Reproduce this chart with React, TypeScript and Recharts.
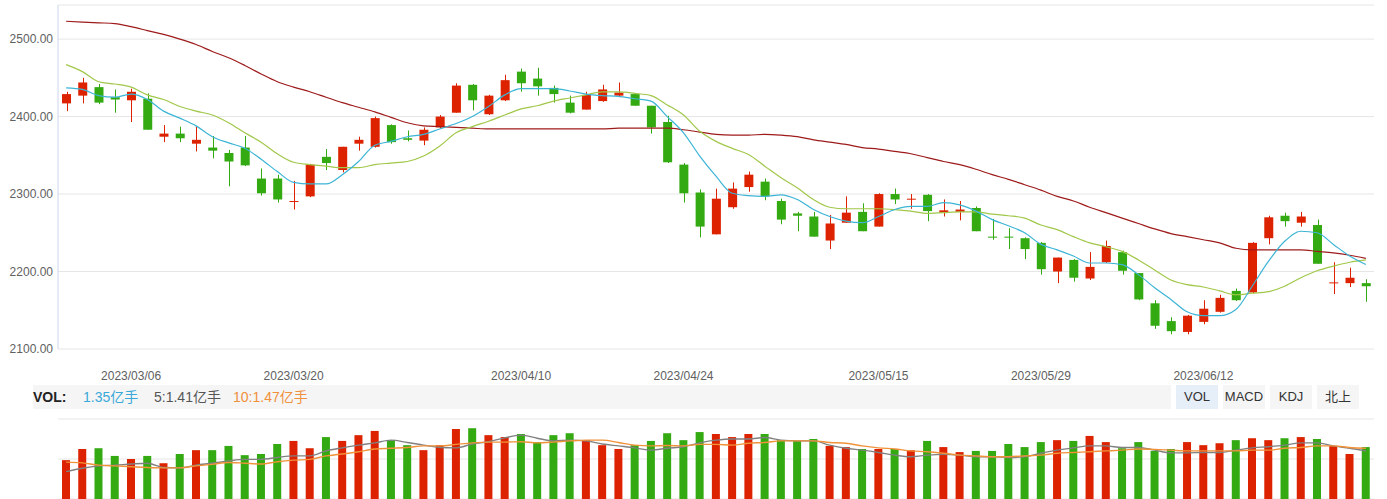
import React from 'react'
import {
  ComposedChart,
  Bar,
  Line,
  XAxis,
  YAxis,
  CartesianGrid,
  Cell,
} from 'recharts'

const dates = [
  '2023/02/28', '2023/03/01', '2023/03/02', '2023/03/03', '2023/03/06', '2023/03/07', '2023/03/08', '2023/03/09', '2023/03/10',
  '2023/03/13', '2023/03/14', '2023/03/15', '2023/03/16', '2023/03/17', '2023/03/20', '2023/03/21', '2023/03/22', '2023/03/23',
  '2023/03/24', '2023/03/27', '2023/03/28', '2023/03/29', '2023/03/30', '2023/03/31', '2023/04/03', '2023/04/04', '2023/04/06',
  '2023/04/07', '2023/04/10', '2023/04/11', '2023/04/12', '2023/04/13', '2023/04/14', '2023/04/17', '2023/04/18', '2023/04/19',
  '2023/04/20', '2023/04/21', '2023/04/24', '2023/04/25', '2023/04/26', '2023/04/27', '2023/04/28', '2023/05/04', '2023/05/05',
  '2023/05/08', '2023/05/09', '2023/05/10', '2023/05/11', '2023/05/12', '2023/05/15', '2023/05/16', '2023/05/17', '2023/05/18',
  '2023/05/19', '2023/05/22', '2023/05/23', '2023/05/24', '2023/05/25', '2023/05/26', '2023/05/29', '2023/05/30', '2023/05/31',
  '2023/06/01', '2023/06/02', '2023/06/05', '2023/06/06', '2023/06/07', '2023/06/08', '2023/06/09', '2023/06/12', '2023/06/13',
  '2023/06/14', '2023/06/15', '2023/06/16', '2023/06/19', '2023/06/20', '2023/06/21', '2023/06/26', '2023/06/27', '2023/06/28',
]

const xTicks = ['2023/03/06', '2023/03/20', '2023/04/10', '2023/04/24', '2023/05/15', '2023/05/29', '2023/06/12']
const yTicks = [2100, 2200, 2300, 2400, 2500]
const volTicks = [0, 0.52, 1.04, 1.56, 2.08]

const open = [
  2417, 2427, 2438, 2425, 2421, 2423, 2374, 2378, 2365, 2360, 2353, 2360, 2320, 2320, 2290, 2297, 2348, 2331, 2365, 2361,
  2389, 2372, 2369, 2386, 2405, 2441, 2403, 2421, 2458, 2449, 2437, 2418, 2409, 2420, 2427, 2429, 2414, 2393, 2338, 2302,
  2248, 2283, 2309, 2316, 2291, 2275, 2271, 2240, 2263, 2277, 2258, 2300, 2293, 2299, 2276, 2277, 2282, 2245, 2245, 2243,
  2237, 2200, 2215, 2191, 2212, 2225, 2198, 2159, 2136, 2122, 2135, 2148, 2175, 2173, 2243, 2272, 2263, 2260, 2185, 2185, 2185,
]
const close = [
  2429, 2444, 2418, 2422, 2432, 2383, 2378, 2372, 2370, 2356, 2342, 2337, 2301, 2293, 2291, 2338, 2340, 2361, 2370, 2398,
  2367, 2370, 2383, 2400, 2440, 2421, 2427, 2447, 2443, 2439, 2429, 2405, 2428, 2435, 2431, 2414, 2386, 2341, 2301, 2258,
  2294, 2307, 2325, 2297, 2267, 2272, 2245, 2262, 2276, 2252, 2300, 2293, 2294, 2278, 2279, 2280, 2252, 2244, 2244, 2229,
  2203, 2218, 2192, 2206, 2233, 2201, 2164, 2130, 2123, 2143, 2152, 2166, 2163, 2237, 2270, 2265, 2271, 2210, 2186, 2192, 2181,
]
const high = [
  2432, 2450, 2442, 2435, 2436, 2430, 2389, 2387, 2387, 2375, 2357, 2375, 2333, 2325, 2317, 2339, 2358, 2361, 2374, 2400,
  2390, 2382, 2386, 2402, 2443, 2442, 2428, 2454, 2462, 2463, 2440, 2427, 2432, 2441, 2444, 2430, 2414, 2401, 2340, 2306,
  2307, 2315, 2329, 2320, 2294, 2277, 2277, 2273, 2297, 2288, 2301, 2307, 2300, 2300, 2293, 2291, 2284, 2268, 2256, 2244,
  2238, 2218, 2216, 2225, 2240, 2227, 2198, 2163, 2141, 2144, 2163, 2170, 2178, 2238, 2272, 2276, 2277, 2267, 2212, 2205, 2190,
]
const low = [
  2407, 2417, 2416, 2405, 2393, 2383, 2367, 2367, 2355, 2346, 2310, 2336, 2298, 2289, 2280, 2296, 2331, 2328, 2356, 2360,
  2365, 2368, 2363, 2385, 2405, 2408, 2402, 2420, 2432, 2427, 2418, 2404, 2409, 2419, 2425, 2414, 2378, 2340, 2289, 2244,
  2248, 2281, 2303, 2292, 2261, 2252, 2245, 2229, 2263, 2252, 2258, 2287, 2281, 2265, 2271, 2266, 2252, 2241, 2229, 2216,
  2196, 2185, 2187, 2189, 2211, 2196, 2163, 2126, 2119, 2119, 2132, 2147, 2162, 2172, 2235, 2258, 2258, 2210, 2171, 2180, 2161,
]

const ma5 = [
  2437, 2435, 2427, 2425, 2429, 2422, 2407, 2398, 2388, 2374, 2366, 2359, 2345, 2329, 2315, 2313, 2313, 2325, 2342, 2363,
  2368, 2374, 2377, 2384, 2391, 2400, 2413, 2428, 2436, 2436, 2436, 2433, 2429, 2427, 2426, 2423, 2420, 2400, 2379, 2349,
  2323, 2301, 2298, 2297, 2299, 2293, 2280, 2271, 2265, 2263, 2271, 2280, 2284, 2284, 2289, 2286, 2278, 2267, 2259, 2250,
  2235, 2228, 2220, 2211, 2211, 2209, 2196, 2179, 2164, 2148, 2143, 2143, 2151, 2181, 2213, 2239, 2252, 2250, 2235, 2220, 2209,
]
const ma10 = [
  2467, 2458, 2445, 2442, 2438, 2428, 2422, 2413, 2407, 2402, 2392, 2379, 2367, 2352, 2341, 2338, 2336, 2334, 2334, 2338,
  2340, 2342, 2349, 2362, 2379, 2387, 2394, 2402, 2410, 2414, 2420, 2424, 2428, 2432, 2432, 2430, 2427, 2415, 2402, 2381,
  2368, 2359, 2351, 2336, 2321, 2308, 2293, 2283, 2281, 2281, 2281, 2280, 2278, 2275, 2276, 2277, 2277, 2274, 2272, 2269,
  2260, 2254, 2245, 2237, 2232, 2226, 2215, 2202, 2189, 2183, 2180, 2175, 2170, 2172, 2174, 2181, 2192, 2201, 2207, 2212, 2215,
]
const ma60 = [
  2523, 2522, 2521, 2520, 2516, 2511, 2506, 2500, 2493, 2484, 2476, 2466, 2455, 2445, 2438, 2432, 2425, 2418, 2412, 2406,
  2399, 2392, 2388, 2387, 2386, 2385, 2384, 2384, 2384, 2384, 2384, 2384, 2384, 2384, 2385, 2385, 2385, 2385, 2383, 2380,
  2377, 2376, 2376, 2377, 2376, 2374, 2370, 2367, 2364, 2360, 2358, 2355, 2352, 2347, 2342, 2338, 2332, 2325, 2319, 2312,
  2305, 2297, 2291, 2283, 2276, 2269, 2262, 2255, 2249, 2245, 2241, 2237, 2230, 2228, 2228, 2228, 2228, 2226, 2224, 2221, 2217,
]

// 成交量 (亿手)
const vol = [
  1.01, 1.3, 1.32, 1.12, 1.04, 1.12, 0.93, 1.17, 1.27, 1.27, 1.38, 1.14, 1.17, 1.43, 1.51, 1.32, 1.61, 1.51, 1.66, 1.77,
  1.53, 1.4, 1.27, 1.4, 1.82, 1.84, 1.66, 1.61, 1.69, 1.48, 1.66, 1.71, 1.53, 1.4, 1.3, 1.4, 1.51, 1.71, 1.53, 1.74,
  1.69, 1.61, 1.69, 1.69, 1.53, 1.51, 1.56, 1.38, 1.35, 1.3, 1.3, 1.3, 1.27, 1.51, 1.35, 1.22, 1.25, 1.25, 1.43, 1.35,
  1.48, 1.53, 1.51, 1.64, 1.48, 1.32, 1.48, 1.25, 1.3, 1.48, 1.4, 1.45, 1.53, 1.58, 1.53, 1.58, 1.61, 1.56, 1.38, 1.17, 1.35,
]
const volMa5 = [
  0.71, 0.8, 0.86, 0.88, 0.91, 0.93, 0.82, 0.81, 0.88, 0.93, 0.99, 1.03, 1.03, 1.08, 1.12, 1.12, 1.25, 1.33, 1.4, 1.46,
  1.53, 1.47, 1.4, 1.34, 1.33, 1.43, 1.49, 1.59, 1.66, 1.58, 1.51, 1.53, 1.51, 1.43, 1.38, 1.33, 1.27, 1.32, 1.36, 1.46,
  1.53, 1.56, 1.56, 1.6, 1.53, 1.51, 1.51, 1.4, 1.32, 1.27, 1.21, 1.14, 1.1, 1.14, 1.16, 1.14, 1.1, 1.1, 1.08, 1.1,
  1.19, 1.27, 1.33, 1.38, 1.38, 1.34, 1.34, 1.27, 1.2, 1.2, 1.21, 1.21, 1.27, 1.33, 1.36, 1.4, 1.46, 1.46, 1.38, 1.32, 1.25,
]
const volMa10 = [
  0.96, 0.94, 0.88, 0.86, 0.84, 0.82, 0.81, 0.81, 0.86, 0.9, 0.95, 0.93, 0.91, 0.97, 1.01, 1.03, 1.12, 1.17, 1.23, 1.3,
  1.32, 1.34, 1.38, 1.38, 1.42, 1.46, 1.48, 1.48, 1.49, 1.46, 1.48, 1.51, 1.53, 1.53, 1.47, 1.4, 1.38, 1.39, 1.38, 1.42,
  1.42, 1.4, 1.45, 1.47, 1.51, 1.51, 1.51, 1.47, 1.45, 1.38, 1.33, 1.3, 1.25, 1.23, 1.19, 1.14, 1.12, 1.1, 1.1, 1.12,
  1.14, 1.19, 1.21, 1.23, 1.25, 1.27, 1.3, 1.29, 1.27, 1.25, 1.25, 1.25, 1.25, 1.27, 1.27, 1.32, 1.34, 1.38, 1.38, 1.34, 1.32,
]

const UP = '#dd2200'
const DOWN = '#33aa11'

const rows = dates.map((date, i) => ({
  date,
  open: open[i],
  close: close[i],
  high: high[i],
  low: low[i],
  range: [low[i], high[i]],
  ma5: ma5[i],
  ma10: ma10[i],
  ma60: ma60[i],
  vol: vol[i],
  volMa5: volMa5[i],
  volMa10: volMa10[i],
}))

const Candle = (props: any) => {
  const { x, y, width, height, payload } = props
  if (!payload) return null
  const top = Math.min(y, y + height)
  const h = Math.abs(height)
  const ppu = h / (payload.high - payload.low || 1)
  const bodyTop = top + (payload.high - Math.max(payload.open, payload.close)) * ppu
  const bodyH = Math.max(1, Math.abs(payload.open - payload.close) * ppu)
  const color = payload.close >= payload.open ? UP : DOWN
  const cx = Math.round(x + width / 2) + 0.5
  return (
    <g>
      <line x1={cx} x2={cx} y1={top} y2={top + h} stroke={color} strokeWidth={1} />
      <rect x={x} y={bodyTop} width={width} height={bodyH} fill={color} />
    </g>
  )
}

const tickStyle = { fontSize: 12, fill: '#606060' }
const tabStyle: React.CSSProperties = {
  position: 'absolute',
  top: 385,
  width: 42,
  height: 24,
  lineHeight: '24px',
  textAlign: 'center',
  fontSize: 13,
  color: '#333',
  background: '#f5f5f5',
}

export default function App() {
  return (
    <div
      style={{
        position: 'absolute',
        left: 0,
        top: 0,
        width: 1387,
        height: 499,
        overflow: 'hidden',
        background: '#fff',
        fontFamily: 'Arial, "Liberation Sans", "Noto Sans CJK SC", sans-serif',
      }}
    >
      <ComposedChart
        width={1387}
        height={385}
        data={rows}
        margin={{ top: 5, right: 13, bottom: 0, left: 0 }}
      >
        <CartesianGrid vertical={false} stroke="#e6e6e6" />
        <XAxis
          dataKey="date"
          ticks={xTicks}
          interval={0}
          axisLine={false}
          tickLine={false}
          tickMargin={16}
          height={36}
          tick={tickStyle}
        />
        <YAxis
          domain={[2100, 2544]}
          ticks={yTicks}
          allowDataOverflow
          width={58}
          axisLine={{ stroke: '#ccd6eb' }}
          tickLine={false}
          tickSize={3}
          tickMargin={2}
          tickFormatter={(v: number) => v.toFixed(2)}
          tick={tickStyle}
        />
        <Bar dataKey="range" shape={<Candle />} barSize={9} isAnimationActive={false} />
        <Line type="monotone" dataKey="ma60" stroke="#9e1b1b" strokeWidth={1.2} dot={false} isAnimationActive={false} />
        <Line type="monotone" dataKey="ma10" stroke="#a1c84a" strokeWidth={1.2} dot={false} isAnimationActive={false} />
        <Line type="monotone" dataKey="ma5" stroke="#3cb4d6" strokeWidth={1.2} dot={false} isAnimationActive={false} />
      </ComposedChart>

      <div
        style={{
          position: 'absolute',
          top: 385,
          left: 33,
          width: 1138,
          height: 24,
          lineHeight: '24px',
          background: '#f5f5f5',
          fontSize: 14,
        }}
      >
        <span style={{ position: 'absolute', left: 0, fontWeight: 'bold', color: '#222' }}>VOL:</span>
        <span style={{ position: 'absolute', left: 50, color: '#39a9d8' }}>1.35亿手</span>
        <span style={{ position: 'absolute', left: 121, color: '#555' }}>5:1.41亿手</span>
        <span style={{ position: 'absolute', left: 200, color: '#f0903a' }}>10:1.47亿手</span>
      </div>
      <div style={{ ...tabStyle, left: 1176, background: '#e6eef8' }}>VOL</div>
      <div style={{ ...tabStyle, left: 1223 }}>MACD</div>
      <div style={{ ...tabStyle, left: 1270 }}>KDJ</div>
      <div style={{ ...tabStyle, left: 1317 }}>北上</div>

      <div style={{ position: 'absolute', top: 409, left: 0 }}>
        <ComposedChart
          width={1387}
          height={90}
          data={rows}
          margin={{ top: 10, right: 13, bottom: 0, left: 58 }}
        >
          <CartesianGrid vertical={false} stroke="#e6e6e6" />
          <XAxis dataKey="date" hide />
          <YAxis hide domain={[0, 2.08]} ticks={volTicks} allowDataOverflow />
          <Bar dataKey="vol" barSize={8} isAnimationActive={false}>
            {rows.map((r) => (
              <Cell key={r.date} fill={r.close >= r.open ? UP : DOWN} />
            ))}
          </Bar>
          <Line type="monotone" dataKey="volMa5" stroke="#808080" strokeWidth={1.4} dot={false} isAnimationActive={false} />
          <Line type="monotone" dataKey="volMa10" stroke="#f0923a" strokeWidth={1.4} dot={false} isAnimationActive={false} />
        </ComposedChart>
      </div>
    </div>
  )
}
